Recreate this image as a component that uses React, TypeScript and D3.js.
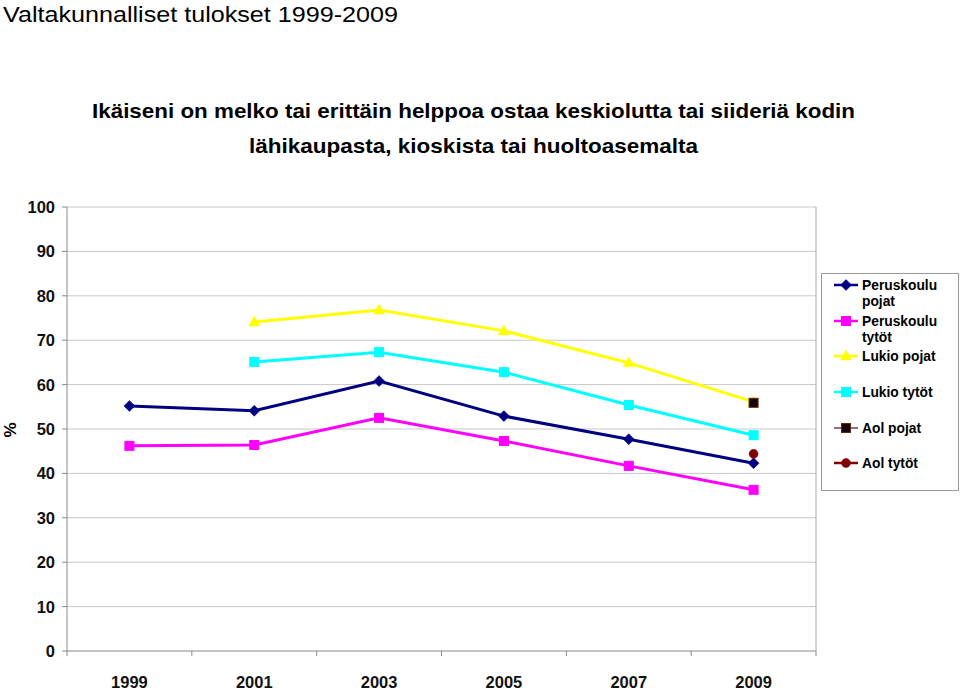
import React from "react";
import * as d3 from "d3";

const years = ["1999", "2001", "2003", "2005", "2007", "2009"];
const yTicks = [0, 10, 20, 30, 40, 50, 60, 70, 80, 90, 100];

const peruskouluPojat: (number | null)[] = [55.2, 54.1, 60.8, 52.9, 47.7, 42.3];
const peruskouluTytot: (number | null)[] = [46.2, 46.4, 52.5, 47.3, 41.7, 36.3];
const lukioPojat: (number | null)[] = [null, 74.1, 76.8, 72.1, 64.9, 56.1];
const lukioTytot: (number | null)[] = [null, 65.1, 67.3, 62.8, 55.4, 48.6];
const aolPojat: (number | null)[] = [null, null, null, null, null, 55.9];
const aolTytot: (number | null)[] = [null, null, null, null, null, 44.4];

const seriesNames = [
  ["Peruskoulu", "pojat"],
  ["Peruskoulu", "tytöt"],
  ["Lukio pojat"],
  ["Lukio tytöt"],
  ["Aol pojat"],
  ["Aol tytöt"],
];

type Marker = "diamond" | "square" | "triangle" | "circle";
const series = [
  { values: peruskouluPojat, color: "#000080", marker: "diamond" as Marker, fill: "#000080", mstroke: "#000080", lw: 3, legendLw: 2.5 },
  { values: peruskouluTytot, color: "#FF00FF", marker: "square" as Marker, fill: "#FF00FF", mstroke: "#FF00FF", lw: 3, legendLw: 2.5 },
  { values: lukioPojat, color: "#FFFF00", marker: "triangle" as Marker, fill: "#FFFF00", mstroke: "#FFFF00", lw: 3, legendLw: 2.5 },
  { values: lukioTytot, color: "#00FFFF", marker: "square" as Marker, fill: "#00FFFF", mstroke: "#00FFFF", lw: 3, legendLw: 2.5 },
  { values: aolPojat, color: "#7a3a6a", marker: "square" as Marker, fill: "#1a0008", mstroke: "#5a2a10", lw: 1.5, legendLw: 1.5 },
  { values: aolTytot, color: "#800000", marker: "circle" as Marker, fill: "#800000", mstroke: "#800000", lw: 2.5, legendLw: 2.5 },
];

function markerShape(type: Marker, fill: string, stroke: string) {
  if (type === "diamond") return <path d="M0,-5.5L5.5,0L0,5.5L-5.5,0Z" fill={fill} stroke={stroke} strokeWidth={0.5} />;
  if (type === "square") return <rect x={-4.5} y={-4.5} width={9} height={9} fill={fill} stroke={stroke} strokeWidth={1} />;
  if (type === "triangle") return <path d="M0,-6L5.5,4L-5.5,4Z" fill={fill} stroke={stroke} strokeWidth={0.5} />;
  return <circle r={4.5} fill={fill} stroke={stroke} strokeWidth={0.5} />;
}

export default function App() {
  const left = 67, right = 816, top = 207, bottom = 651;
  const x = d3.scaleBand<string>().domain(years).range([left, right]);
  const y = d3.scaleLinear().domain([0, 100]).range([bottom, top]);
  const cx = (yr: string) => (x(yr) as number) + x.bandwidth() / 2;
  const line = d3
    .line<number | null>()
    .defined((d) => d !== null)
    .x((_, i) => cx(years[i]))
    .y((d) => y(d as number));

  const font = "'Liberation Sans', Arial, Helvetica, sans-serif";
  const boundaries = years.map((yr) => x(yr) as number).concat([right]);

  const legendY = [285, 321, 356, 392, 428, 463];

  return (
    <svg width={960} height={690} style={{ position: "absolute", left: 0, top: 0, background: "#fff" }} fontFamily={font}>
      <rect width={960} height={690} fill="#fff" />
      <text x={3} y={22} fontSize={22} fill="#000" textLength={395} lengthAdjust="spacingAndGlyphs">
        Valtakunnalliset tulokset 1999-2009
      </text>
      <text x={473.5} y={118} fontSize={21} fontWeight="bold" textAnchor="middle" textLength={763} lengthAdjust="spacingAndGlyphs">
        Ikäiseni on melko tai erittäin helppoa ostaa keskiolutta tai siideriä kodin
      </text>
      <text x={473.5} y={153} fontSize={21} fontWeight="bold" textAnchor="middle" textLength={449} lengthAdjust="spacingAndGlyphs">
        lähikaupasta, kioskista tai huoltoasemalta
      </text>

      {/* gridlines */}
      {yTicks.map((t) => (
        <line key={"g" + t} x1={left} x2={right} y1={y(t)} y2={y(t)} stroke={t === 0 ? "#888" : "#c8c8c8"} strokeWidth={1} />
      ))}
      <line x1={left} x2={left} y1={top} y2={bottom} stroke="#888" />
      <line x1={right} x2={right} y1={top} y2={bottom} stroke="#aaa" />
      {yTicks.map((t) => (
        <g key={"yt" + t}>
          <line x1={left - 5} x2={left} y1={y(t)} y2={y(t)} stroke="#888" />
          <text x={55} y={y(t) + 6} fontSize={16.5} fontWeight="bold" textAnchor="end" fill="#111">
            {t}
          </text>
        </g>
      ))}
      {boundaries.map((b, i) => (
        <line key={"xt" + i} x1={b} x2={b} y1={bottom} y2={bottom + 5} stroke="#888" />
      ))}
      {years.map((yr) => (
        <text key={"xl" + yr} x={cx(yr)} y={688} fontSize={16.5} fontWeight="bold" textAnchor="middle" fill="#111">
          {yr}
        </text>
      ))}
      <text transform={`translate(16,430) rotate(-90)`} fontSize={17} fontWeight="bold" textAnchor="middle">%</text>

      {/* series */}
      {series.map((s, si) => (
        <g key={"s" + si}>
          <path d={line(s.values) || ""} fill="none" stroke={s.color} strokeWidth={s.lw} />
          {s.values.map((v, i) =>
            v === null ? null : (
              <g key={i} transform={`translate(${cx(years[i])},${y(v)})`}>
                {markerShape(s.marker, s.fill, s.mstroke)}
              </g>
            )
          )}
        </g>
      ))}

      {/* legend */}
      <rect x={821.5} y={273.5} width={137} height={217} fill="#fff" stroke="#999" strokeWidth={1} />
      {series.map((s, i) => (
        <g key={"l" + i}>
          <line x1={834} x2={858} y1={legendY[i]} y2={legendY[i]} stroke={s.color} strokeWidth={s.legendLw} />
          <g transform={`translate(846,${legendY[i]})`}>{markerShape(s.marker, s.fill, s.mstroke)}</g>
          {seriesNames[i].map((t, j) => (
            <text key={j} x={862} y={legendY[i] + 5 + j * 15.5} fontSize={13.8} fontWeight="bold" fill="#000">
              {t}
            </text>
          ))}
        </g>
      ))}
    </svg>
  );
}
